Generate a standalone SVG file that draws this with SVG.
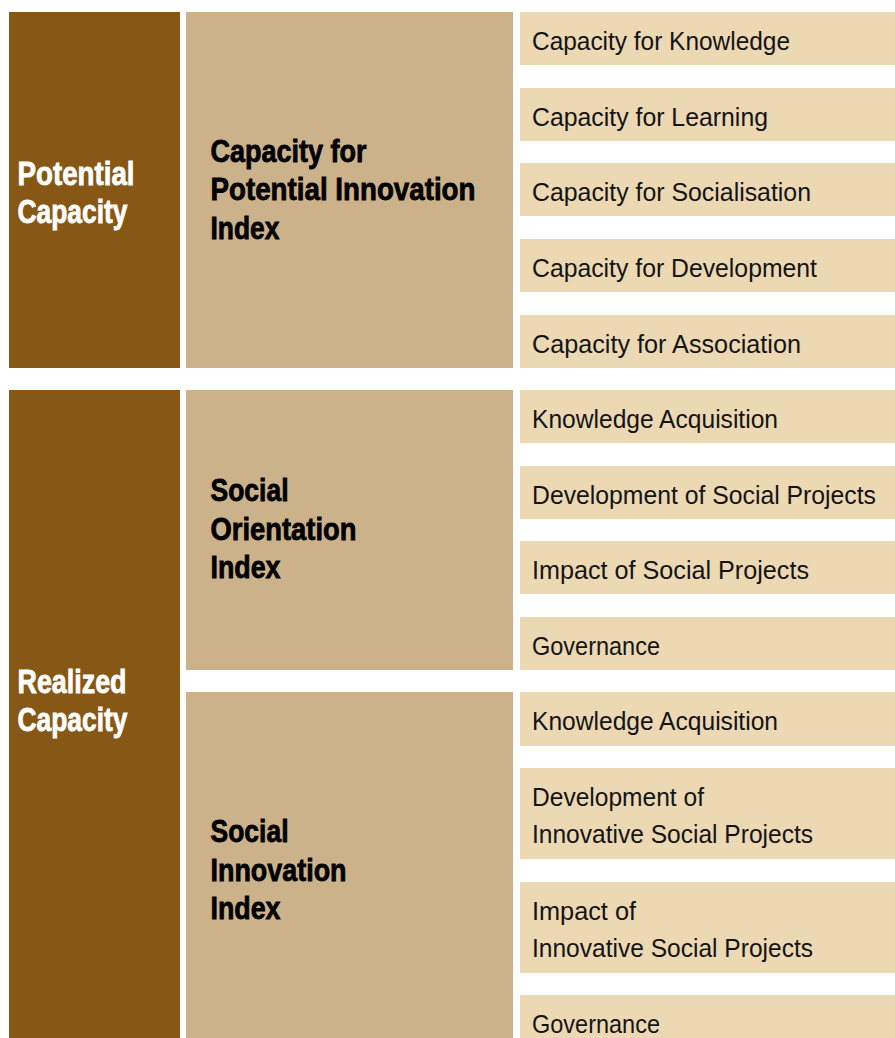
<svg xmlns="http://www.w3.org/2000/svg" width="895" height="1038" viewBox="0 0 895 1038">
  <style>
    .dark { fill: #875716; }
    .mid { fill: #CCB28A; }
    .light { fill: #ECD8B3; }
    .cap { font-family: "Liberation Sans", Arial, sans-serif; font-weight: 700; font-size: 33px; fill: #ffffff; stroke: #ffffff; stroke-width: 0.8px; }
    .idx { font-family: "Liberation Sans", Arial, sans-serif; font-weight: 700; font-size: 32px; fill: #000000; stroke: #000000; stroke-width: 0.8px; }
    .item { font-family: "Liberation Sans", Arial, sans-serif; font-size: 25px; fill: #141414; }
  </style>
  <rect width="895" height="1038" fill="#ffffff"/>

  <!-- Level 1: capacity columns -->
  <g id="potential-capacity">
    <rect class="dark" x="9" y="12" width="171" height="356"/>
    <text class="cap" x="17.5" y="185" textLength="117" lengthAdjust="spacingAndGlyphs">Potential</text>
    <text class="cap" x="17.5" y="223" textLength="110" lengthAdjust="spacingAndGlyphs">Capacity</text>
  </g>
  <g id="realized-capacity">
    <rect class="dark" x="9" y="390" width="171" height="648"/>
    <text class="cap" x="17.5" y="693" textLength="109" lengthAdjust="spacingAndGlyphs">Realized</text>
    <text class="cap" x="17.5" y="731" textLength="110" lengthAdjust="spacingAndGlyphs">Capacity</text>
  </g>

  <!-- Level 2: indices -->
  <g id="potential-innovation-index">
    <rect class="mid" x="186" y="12" width="327" height="356"/>
    <text class="idx" x="210.5" y="162" textLength="156" lengthAdjust="spacingAndGlyphs">Capacity for</text>
    <text class="idx" x="210.5" y="200" textLength="265" lengthAdjust="spacingAndGlyphs">Potential Innovation</text>
    <text class="idx" x="210.5" y="238.5" textLength="69" lengthAdjust="spacingAndGlyphs">Index</text>
  </g>
  <g id="social-orientation-index">
    <rect class="mid" x="186" y="390" width="327" height="280"/>
    <text class="idx" x="210.5" y="501" textLength="78" lengthAdjust="spacingAndGlyphs">Social</text>
    <text class="idx" x="210.5" y="539.5" textLength="146" lengthAdjust="spacingAndGlyphs">Orientation</text>
    <text class="idx" x="210.5" y="578" textLength="70" lengthAdjust="spacingAndGlyphs">Index</text>
  </g>
  <g id="social-innovation-index">
    <rect class="mid" x="186" y="692" width="327" height="346"/>
    <text class="idx" x="210.5" y="842" textLength="78" lengthAdjust="spacingAndGlyphs">Social</text>
    <text class="idx" x="210.5" y="880.5" textLength="136" lengthAdjust="spacingAndGlyphs">Innovation</text>
    <text class="idx" x="210.5" y="919" textLength="70" lengthAdjust="spacingAndGlyphs">Index</text>
  </g>

  <!-- Level 3: dimensions -->
  <g id="capacity-knowledge">
    <rect class="light" x="520" y="12" width="375" height="53"/>
    <text class="item" x="532" y="50" textLength="258" lengthAdjust="spacingAndGlyphs">Capacity for Knowledge</text>
  </g>
  <g id="capacity-learning">
    <rect class="light" x="520" y="88" width="375" height="53"/>
    <text class="item" x="532" y="126" textLength="236" lengthAdjust="spacingAndGlyphs">Capacity for Learning</text>
  </g>
  <g id="capacity-socialisation">
    <rect class="light" x="520" y="163" width="375" height="53"/>
    <text class="item" x="532" y="201" textLength="279" lengthAdjust="spacingAndGlyphs">Capacity for Socialisation</text>
  </g>
  <g id="capacity-development">
    <rect class="light" x="520" y="239" width="375" height="53"/>
    <text class="item" x="532" y="277" textLength="285" lengthAdjust="spacingAndGlyphs">Capacity for Development</text>
  </g>
  <g id="capacity-association">
    <rect class="light" x="520" y="315" width="375" height="53"/>
    <text class="item" x="532" y="353" textLength="269" lengthAdjust="spacingAndGlyphs">Capacity for Association</text>
  </g>

  <g id="so-knowledge-acquisition">
    <rect class="light" x="520" y="390" width="375" height="53"/>
    <text class="item" x="532" y="428" textLength="246" lengthAdjust="spacingAndGlyphs">Knowledge Acquisition</text>
  </g>
  <g id="so-development">
    <rect class="light" x="520" y="466" width="375" height="53"/>
    <text class="item" x="532" y="504" textLength="344" lengthAdjust="spacingAndGlyphs">Development of Social Projects</text>
  </g>
  <g id="so-impact">
    <rect class="light" x="520" y="541" width="375" height="53"/>
    <text class="item" x="532" y="579" textLength="277" lengthAdjust="spacingAndGlyphs">Impact of Social Projects</text>
  </g>
  <g id="so-governance">
    <rect class="light" x="520" y="617" width="375" height="53"/>
    <text class="item" x="532" y="655" textLength="128" lengthAdjust="spacingAndGlyphs">Governance</text>
  </g>

  <g id="si-knowledge-acquisition">
    <rect class="light" x="520" y="692" width="375" height="54"/>
    <text class="item" x="532" y="730" textLength="246" lengthAdjust="spacingAndGlyphs">Knowledge Acquisition</text>
  </g>
  <g id="si-development">
    <rect class="light" x="520" y="768" width="375" height="91"/>
    <text class="item" x="532" y="806" textLength="172" lengthAdjust="spacingAndGlyphs">Development of</text>
    <text class="item" x="532" y="843" textLength="281" lengthAdjust="spacingAndGlyphs">Innovative Social Projects</text>
  </g>
  <g id="si-impact">
    <rect class="light" x="520" y="882" width="375" height="91"/>
    <text class="item" x="532" y="920" textLength="104" lengthAdjust="spacingAndGlyphs">Impact of</text>
    <text class="item" x="532" y="957" textLength="281" lengthAdjust="spacingAndGlyphs">Innovative Social Projects</text>
  </g>
  <g id="si-governance">
    <rect class="light" x="520" y="995" width="375" height="43"/>
    <text class="item" x="532" y="1033" textLength="128" lengthAdjust="spacingAndGlyphs">Governance</text>
  </g>
</svg>
